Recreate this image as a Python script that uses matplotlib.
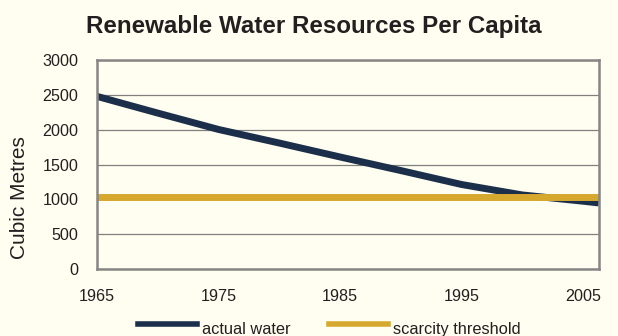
import matplotlib.pyplot as plt
from matplotlib.lines import Line2D

# Datos
years = [1965, 1970, 1975, 1980, 1985, 1990, 1995, 2000, 2005, 2006.3]
actual_water = [2480, 2240, 2005, 1810, 1610, 1415, 1215, 1065, 975, 950]
scarcity = [1042] * len(years)
x_ticks = [1965, 1975, 1985, 1995, 2005]
y_ticks = [0, 500, 1000, 1500, 2000, 2500, 3000]

bg = '#fffef0'
navy = '#1b2f4a'
gold = '#d6a82e'
ink = '#231f20'

plt.rcParams['font.family'] = ['Liberation Sans', 'DejaVu Sans']

fig = plt.figure(figsize=(6.18, 3.36), dpi=100, facecolor=bg)
ax = fig.add_axes([0.157, 0.199, 0.812, 0.622], facecolor=bg)

ax.plot(years, actual_water, color=navy, linewidth=5, solid_capstyle='butt', solid_joinstyle='round')
ax.plot(years, scarcity, color=gold, linewidth=5, solid_capstyle='butt')

ax.set_xlim(years[0], years[-1])
ax.set_ylim(0, 3000)
ax.set_xticks(x_ticks)
ax.set_yticks(y_ticks)
ax.grid(axis='y', color='#808080', linewidth=0.9)
ax.set_axisbelow(True)
ax.tick_params(length=0, colors=ink, labelsize=11.6)
ax.tick_params(axis='x', pad=14)
ax.tick_params(axis='y', pad=13.5)
for s in ax.spines.values():
    s.set_color('#868686')
    s.set_linewidth(1.8)

fig.text(0.032, 0.412, 'Cubic Metres', rotation=90, ha='center', va='center', fontsize=15, color=ink)
fig.text(0.507, 0.901, 'Renewable Water Resources Per Capita', ha='center', va='baseline',
         fontsize=17.4, fontweight='bold', color=ink)

# Leyenda dibujada a mano
fig.add_artist(Line2D([0.2233, 0.3188], [0.0357, 0.0357], color=navy, linewidth=4))
fig.text(0.327, 0.0045, 'actual water', fontsize=11.8, va='baseline', color=ink)
fig.add_artist(Line2D([0.532, 0.628], [0.0357, 0.0357], color=gold, linewidth=4))
fig.text(0.636, 0.0045, 'scarcity threshold', fontsize=11.8, va='baseline', color=ink)

plt.savefig('out.png', dpi=100, facecolor=bg)
